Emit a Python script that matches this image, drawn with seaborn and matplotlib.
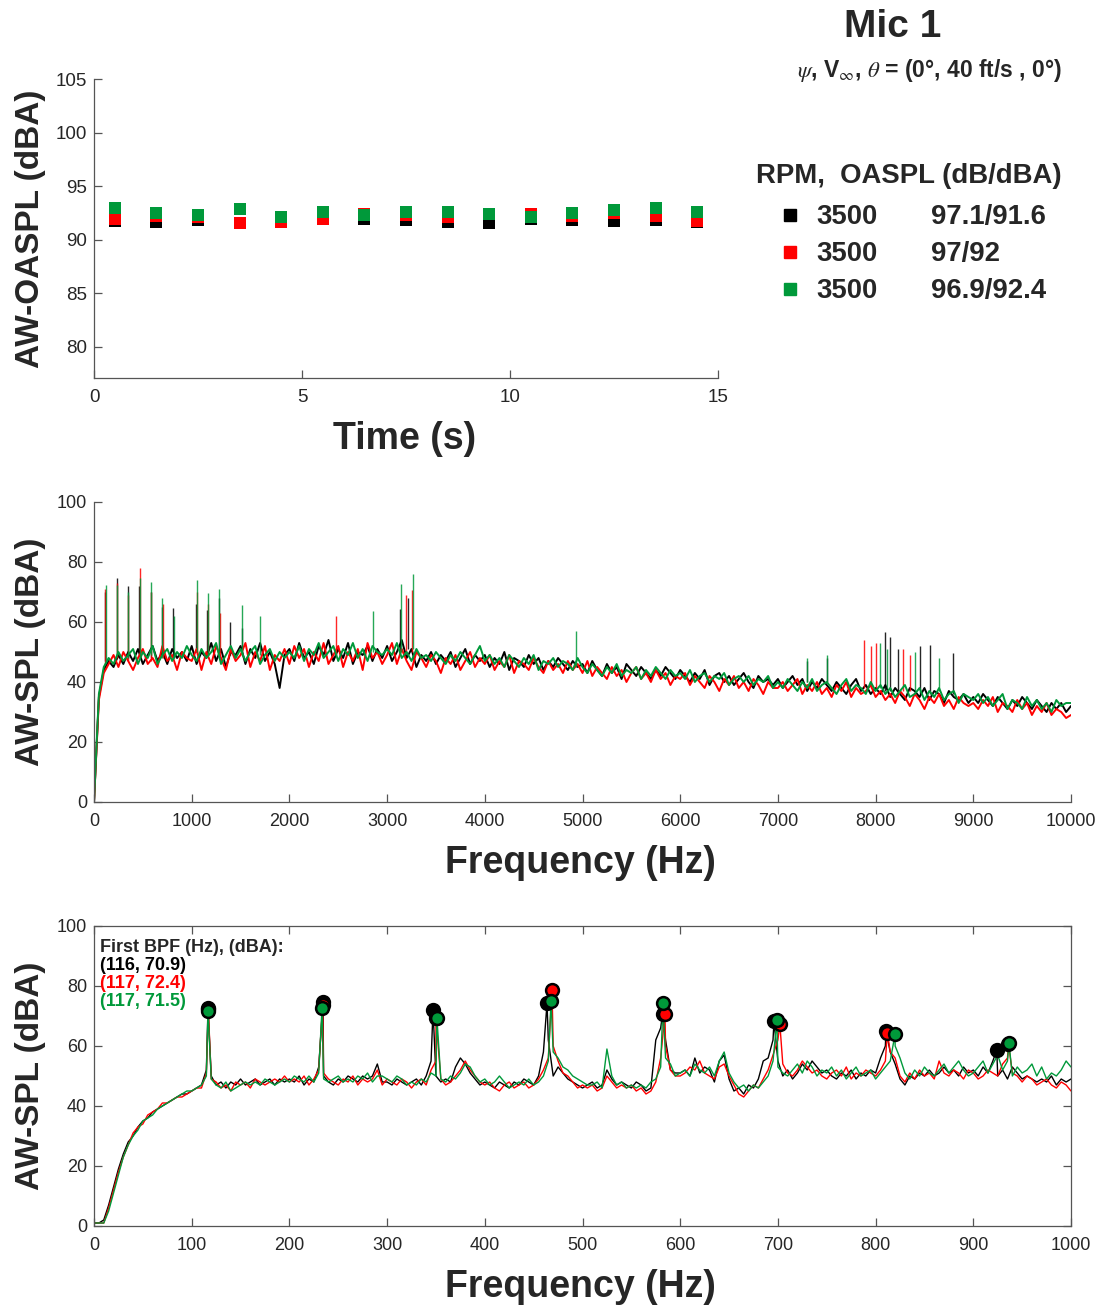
import numpy as np
import seaborn as sns
import matplotlib.pyplot as plt
from matplotlib.lines import Line2D

sns.set_theme(style="ticks")
plt.rcParams['font.family'] = ['Liberation Sans', 'DejaVu Sans']
plt.rcParams['mathtext.fontset'] = 'stix'

# colours for the three runs (black, red, green)
colors = ['#000000', '#ff0000', '#00993a']
rpm = ['3500', '3500', '3500']
oaspl = ['97.1/91.6', '97/92', '96.9/92.4']

# ---- top panel: AW-OASPL vs time
time_s = [0.5, 1.5, 2.5, 3.5, 4.5, 5.5, 6.5, 7.5, 8.5, 9.5, 10.5, 11.5, 12.5, 13.5, 14.5]
oaspl_black = [91.71, 91.64, 91.80, 91.57, 91.62, 91.91, 91.89, 91.80, 91.61, 91.55, 91.89, 91.80, 91.71, 91.80, 91.61]
oaspl_red = [91.96, 92.24, 92.08, 91.55, 91.61, 91.96, 92.39, 92.30, 92.08, 92.39, 92.39, 92.17, 92.48, 92.17, 91.71]
oaspl_green = [92.98, 92.48, 92.30, 92.83, 92.14, 92.58, 92.33, 92.58, 92.58, 92.39, 92.11, 92.48, 92.80, 92.92, 92.58]

# ---- middle panel: spectrum 0-10000 Hz on a 50 Hz grid
f_wide = np.arange(0, 10001, 50)
spl_wide_black = [
    0, 35, 44, 47, 45, 49, 46, 50, 47, 51, 46, 49, 52, 47, 50, 46, 51, 48, 50, 47,
    52, 46, 50, 48, 53, 47, 51, 45, 50, 49, 52, 46, 51, 48, 53, 47, 50, 46, 38, 49,
    51, 47, 53, 48, 50, 46, 52, 49, 54, 47, 51, 48, 53, 46, 50, 49, 52, 47, 51, 48,
    52, 47, 50, 54, 48, 51, 45, 49, 47, 50, 46, 49, 47, 50, 45, 48, 51, 46, 49, 47,
    49, 45, 48, 46, 50, 44, 48, 47, 45, 49, 46, 48, 44, 47, 45, 48, 46, 44, 47, 45,
    46, 43, 47, 44, 42, 46, 43, 45, 41, 46, 44, 42, 45, 43, 41, 44, 42, 45, 43, 41,
    44, 42, 40, 43, 41, 44, 39, 42, 43, 40, 42, 39, 41, 43, 40, 38, 42, 40, 41, 39,
    41, 38, 40, 42, 39, 41, 37, 40, 38, 41, 39, 37, 40, 38, 36, 39, 41, 37, 39, 36,
    38, 36, 39, 35, 38, 36, 34, 38, 37, 35, 38, 34, 37, 36, 33, 37, 35, 34, 36, 33,
    35, 33, 36, 34, 32, 35, 33, 31, 34, 32, 35, 33, 31, 34, 32, 30, 33, 31, 33, 30,
    32]
spl_wide_red = [
    0, 34, 43, 46, 49, 45, 50, 47, 44, 48, 51, 46, 48, 45, 52, 47, 49, 44, 50, 48,
    47, 51, 44, 50, 46, 52, 48, 44, 51, 47, 49, 53, 45, 50, 47, 52, 44, 49, 47, 51,
    46, 52, 48, 51, 45, 50, 47, 53, 46, 49, 52, 45, 50, 47, 51, 44, 53, 48, 50, 46,
    49, 53, 46, 51, 47, 44, 50, 48, 45, 49, 47, 43, 48, 46, 49, 44, 47, 50, 45, 48,
    46, 49, 44, 47, 45, 49, 43, 47, 46, 44, 48, 45, 43, 47, 44, 46, 43, 47, 44, 46,
    43, 47, 42, 45, 43, 41, 45, 42, 44, 40, 43, 45, 41, 43, 40, 44, 41, 43, 39, 42,
    41, 43, 39, 42, 40, 38, 42, 40, 37, 41, 39, 42, 38, 40, 37, 41, 39, 36, 40, 38,
    38, 40, 37, 39, 41, 36, 39, 37, 40, 36, 38, 35, 39, 37, 40, 35, 38, 36, 37, 39,
    35, 37, 34, 36, 33, 37, 35, 32, 36, 34, 31, 35, 33, 36, 32, 34, 31, 35, 33, 32,
    33, 31, 34, 32, 35, 30, 33, 32, 30, 34, 31, 33, 29, 32, 30, 33, 29, 31, 30, 28,
    29]
spl_wide_green = [
    0, 36, 45, 48, 46, 50, 47, 49, 51, 46, 50, 48, 52, 46, 49, 51, 47, 50, 48, 52,
    49, 47, 51, 48, 50, 53, 46, 49, 52, 48, 51, 47, 50, 52, 46, 49, 51, 47, 50, 48,
    50, 48, 52, 47, 51, 49, 53, 48, 50, 52, 47, 51, 49, 53, 48, 51, 47, 52, 50, 49,
    51, 49, 53, 48, 50, 47, 51, 48, 49, 47, 50, 48, 46, 49, 47, 50, 48, 46, 49, 52,
    47, 49, 46, 48, 45, 49, 47, 45, 48, 46, 49, 44, 47, 46, 48, 45, 47, 46, 44, 48,
    45, 43, 46, 44, 42, 45, 43, 46, 42, 44, 43, 45, 41, 44, 42, 45, 43, 41, 44, 42,
    43, 41, 44, 40, 42, 43, 40, 42, 41, 43, 39, 41, 42, 40, 42, 39, 41, 40, 42, 38,
    40, 38, 41, 39, 37, 40, 38, 41, 37, 39, 40, 38, 36, 39, 41, 37, 39, 38, 36, 40,
    37, 39, 36, 38, 35, 37, 39, 35, 36, 38, 34, 37, 35, 38, 34, 36, 37, 33, 36, 35,
    34, 36, 33, 35, 32, 34, 36, 31, 34, 33, 31, 35, 32, 34, 31, 33, 30, 34, 32, 33,
    33]

# narrow tonal spikes in the wide spectrum: freq, top, base
spike_f_black = [116, 233, 349, 465, 581, 698, 812, 1045, 1160, 1280, 1395, 1515, 3130, 3210, 7300, 7500, 8100, 8150, 8230, 8450, 8560, 8790]
spike_top_black = [70, 74.6, 72, 72, 70, 65, 64.6, 66, 64, 68, 60, 58, 64.3, 68, 47, 48, 56.6, 55, 51, 52, 52.3, 49.7]
spike_base_black = [47, 48, 48, 49, 48, 49, 48, 50, 49, 50, 49, 49, 50, 51, 40, 40, 37, 37, 37, 36, 36, 36]
spike_f_red = [117, 234, 350, 469, 584, 702, 1050, 1170, 1285, 2480, 3190, 3255, 7880, 7950, 8000, 8280, 8350]
spike_top_red = [71, 73, 69, 78, 70, 66, 70, 66, 63, 62, 69, 70.7, 54, 52, 53, 51, 49]
spike_base_red = [46, 48, 47, 48, 47, 48, 49, 50, 48, 49, 50, 50, 38, 38, 38, 37, 37]
spike_f_green = [120, 232, 345, 468, 580, 693, 815, 1051, 1164, 1280, 1515, 1700, 2860, 3142, 3262, 4930, 7300, 7500, 8050, 8120, 8400, 8650]
spike_top_green = [72.3, 72.5, 70, 74.6, 73.3, 68, 62, 74, 69.6, 71, 65.7, 62, 63.7, 72.7, 76, 57, 48, 49, 53, 51, 50, 48]
spike_base_green = [47, 49, 48, 49, 49, 48, 48, 50, 49, 50, 49, 49, 50, 50, 51, 45, 40, 40, 38, 38, 37, 37]

# ---- bottom panel: spectrum 0-1000 Hz on a 5 Hz grid
f_low = np.arange(0, 1001, 5)
spl_low_black = [
    1, 1, 2, 7, 13, 19, 24, 28, 30, 33, 35, 36, 38, 39, 40, 41, 42, 43, 44, 44,
    45, 46, 47, 52, 50, 47, 48, 46, 48, 47, 49, 47, 48, 49, 47, 48, 49, 47, 49, 48,
    49, 48, 50, 47, 49, 48, 53, 50, 48, 47, 49, 48, 50, 49, 48, 50, 49, 50, 54, 48,
    48, 47, 49, 48, 47, 48, 49, 47, 50, 55, 50, 48, 49, 48, 53, 56, 54, 51, 49, 47,
    48, 47, 46, 48, 47, 46, 48, 47, 49, 48, 47, 50, 58, 62, 50, 53, 51, 49, 48, 47,
    46, 47, 48, 46, 47, 52, 49, 47, 48, 47, 46, 48, 47, 45, 46, 62, 66, 62, 52, 51,
    51, 52, 50, 56, 51, 53, 52, 48, 55, 57, 49, 45, 46, 44, 47, 46, 49, 55, 56, 62,
    55, 50, 52, 49, 51, 54, 52, 55, 53, 51, 52, 50, 49, 51, 50, 52, 49, 51, 50, 52,
    51, 56, 60, 58, 54, 49, 47, 50, 49, 51, 50, 52, 50, 51, 53, 51, 52, 50, 53, 51,
    52, 50, 53, 51, 55, 50, 52, 49, 53, 51, 49, 50, 49, 48, 49, 48, 50, 47, 49, 48,
    49]
spl_low_red = [
    1, 1, 1, 6, 12, 18, 23, 27, 31, 33, 34, 37, 38, 39, 41, 41, 42, 43, 43, 44,
    45, 46, 46, 51, 49, 48, 46, 47, 45, 48, 47, 48, 46, 49, 48, 47, 48, 49, 48, 50,
    48, 49, 48, 50, 47, 49, 52, 51, 49, 48, 47, 49, 48, 50, 47, 49, 48, 49, 52, 47,
    49, 48, 47, 49, 48, 46, 48, 49, 47, 52, 55, 49, 47, 48, 50, 52, 55, 52, 50, 48,
    47, 48, 46, 45, 47, 48, 46, 47, 48, 46, 47, 49, 52, 56, 60, 55, 51, 50, 48, 46,
    47, 46, 47, 45, 46, 50, 48, 46, 47, 46, 47, 45, 46, 44, 45, 48, 56, 60, 52, 50,
    50, 51, 53, 52, 55, 51, 50, 49, 53, 54, 50, 47, 44, 43, 45, 47, 46, 49, 52, 57,
    62, 54, 51, 50, 52, 55, 53, 51, 52, 50, 49, 51, 52, 50, 53, 49, 51, 50, 52, 51,
    50, 52, 55, 58, 56, 50, 48, 51, 49, 52, 50, 51, 49, 55, 51, 50, 52, 51, 49, 52,
    51, 49, 50, 52, 51, 50, 54, 56, 51, 50, 48, 50, 49, 47, 48, 49, 47, 46, 48, 47,
    45]
spl_low_green = [
    1, 1, 1, 5, 11, 17, 23, 27, 30, 32, 35, 36, 37, 39, 40, 41, 42, 43, 44, 45,
    45, 46, 47, 50, 49, 47, 46, 48, 45, 46, 47, 48, 47, 48, 47, 49, 48, 47, 48, 49,
    48, 50, 49, 48, 50, 48, 51, 49, 48, 49, 50, 48, 49, 48, 50, 49, 51, 48, 50, 50,
    49, 48, 50, 49, 47, 48, 47, 49, 48, 51, 50, 49, 48, 50, 49, 51, 54, 53, 50, 48,
    49, 47, 48, 50, 48, 46, 47, 48, 47, 49, 47, 48, 50, 55, 58, 56, 53, 52, 50, 49,
    48, 47, 47, 48, 46, 59, 50, 47, 48, 46, 47, 46, 47, 46, 48, 49, 53, 56, 54, 50,
    51, 52, 50, 54, 52, 51, 53, 50, 55, 58, 51, 48, 46, 47, 45, 47, 46, 48, 50, 55,
    53, 51, 50, 52, 54, 51, 55, 53, 50, 52, 51, 53, 50, 52, 49, 51, 53, 50, 51, 52,
    49, 51, 53, 55, 60, 56, 51, 49, 52, 50, 53, 51, 50, 52, 54, 51, 53, 55, 52, 50,
    51, 53, 55, 51, 54, 57, 52, 55, 50, 53, 51, 52, 54, 50, 53, 49, 51, 50, 52, 55,
    53]

# BPF harmonic peaks (marked with circles)
peak_f_black = [116.7, 234.4, 347, 463.7, 582, 696, 810.6, 924]
peak_db_black = [72.7, 74.7, 72, 74.3, 70.7, 68.3, 65, 58.7]
peak_f_red = [117, 234, 350, 468.8, 584.4, 702, 812, 936]
peak_db_red = [72.4, 73.8, 69.5, 78.7, 70.7, 67.3, 64.5, 60.7]
peak_f_green = [116.7, 233.4, 351, 467.8, 582.4, 699, 819.9, 936.5]
peak_db_green = [71.7, 72.7, 69.3, 75, 74.3, 68.7, 64, 61]
bpf_labels = ['(116, 70.9)', '(117, 72.4)', '(117, 71.5)']

W, H = 1104, 1308
fig = plt.figure(figsize=(W / 100, H / 100), dpi=100)


def ax_rect(left, top, right, bottom):
    return [left / W, 1 - bottom / H, (right - left) / W, (bottom - top) / H]


ax1 = fig.add_axes(ax_rect(94, 79, 718, 378))
ax2 = fig.add_axes(ax_rect(94, 502, 1071, 802))
ax3 = fig.add_axes(ax_rect(94, 926, 1071, 1226))

# top
for vals, c in zip([oaspl_black, oaspl_red, oaspl_green], colors):
    sns.scatterplot(x=time_s, y=vals, marker='s', s=82, color=c, linewidth=0, ax=ax1, zorder=3)
ax1.set_xlim(0, 15)
ax1.set_ylim(77.1, 105)
ax1.set_xticks([0, 5, 10, 15])
ax1.set_yticks([80, 85, 90, 95, 100, 105])

# middle
wide = [(spl_wide_black, spike_f_black, spike_top_black, spike_base_black),
        (spl_wide_red, spike_f_red, spike_top_red, spike_base_red),
        (spl_wide_green, spike_f_green, spike_top_green, spike_base_green)]
for (vals, sf, st, sb), c in zip(wide, colors):
    sns.lineplot(x=f_wide, y=vals, color=c, lw=1.4, estimator=None, ax=ax2)
    ax2.vlines(sf, sb, st, color=c, lw=1.0, alpha=0.85)
ax2.set_xlim(0, 10000)
ax2.set_ylim(0, 100)
ax2.set_xticks(range(0, 10001, 1000))
ax2.set_yticks(range(0, 101, 20))

# bottom
low = [(spl_low_black, peak_f_black, peak_db_black),
       (spl_low_red, peak_f_red, peak_db_red),
       (spl_low_green, peak_f_green, peak_db_green)]
for (vals, pf, pdb), c in zip(low, colors):
    x = np.concatenate([f_low, pf])
    y = np.concatenate([vals, pdb])
    sns.lineplot(x=x, y=y, color=c, lw=1.0, estimator=None, sort=True, ax=ax3)
for (vals, pf, pdb), c in zip(low, colors):
    sns.scatterplot(x=pf, y=pdb, marker='o', s=85, color=c, edgecolor='black',
                    linewidth=1.8, ax=ax3, zorder=5)
ax3.set_xlim(0, 1000)
ax3.set_ylim(0, 100)
ax3.set_xticks(range(0, 1001, 100))
ax3.set_yticks(range(0, 101, 20))

spine_c = '#555555'
for ax in [ax1, ax2, ax3]:
    for s in ax.spines.values():
        s.set_color(spine_c)
        s.set_linewidth(0.9)
    ax.tick_params(direction='in', length=6, width=0.9, color=spine_c,
                   labelsize=13, labelcolor='#262626')
    ax.tick_params(axis='x', pad=8)
    ax.tick_params(axis='y', pad=5)
for ax in [ax1, ax2]:
    ax.spines['top'].set_visible(False)
    ax.spines['right'].set_visible(False)
ax3.tick_params(top=True, right=True)
for lab in ax1.get_xticklabels() + ax1.get_yticklabels():
    lab.set_fontsize(13.5)

ax1.set_ylabel('AW-OASPL (dBA)', fontsize=24, fontweight='bold', color='#262626')
ax1.set_xlabel('Time (s)', fontsize=27, fontweight='bold', color='#262626')
ax2.set_ylabel('AW-SPL (dBA)', fontsize=24, fontweight='bold', color='#262626')
ax2.set_xlabel('Frequency (Hz)', fontsize=27, fontweight='bold', color='#262626')
ax3.set_ylabel('AW-SPL (dBA)', fontsize=24, fontweight='bold', color='#262626')
ax3.set_xlabel('Frequency (Hz)', fontsize=27, fontweight='bold', color='#262626')
ax1.yaxis.set_label_coords((46 - 94) / 624, 0.5)
ax1.xaxis.set_label_coords(0.498, (378 - 421) / 299)
for ax in [ax2, ax3]:
    ax.yaxis.set_label_coords((46 - 94) / 977, 0.5)
    ax.xaxis.set_label_coords(0.498, -0.143)


def ftext(x, y, s, **kw):
    fig.text(x / W, 1 - y / H, s, **kw)


ftext(893, 27, 'Mic 1', fontsize=28, fontweight='bold', ha='center', va='center')
ftext(930, 71, r'$\psi$, V$_{\infty}$, $\theta$ = (0°, 40 ft/s , 0°)', fontsize=16.5,
      fontweight='bold', ha='center', va='center')
ftext(756, 176, 'RPM,  OASPL (dB/dBA)', fontsize=19.8, fontweight='bold', va='center')
for i, c in enumerate(colors):
    yy = 217 + 37 * i
    fig.add_artist(Line2D([790 / W], [1 - (yy - 2) / H], marker='s', color=c,
                          markersize=8, lw=0, transform=fig.transFigure))
    ftext(816, yy, rpm[i], fontsize=19.8, fontweight='bold', va='center')
    ftext(931, yy, oaspl[i], fontsize=19.8, fontweight='bold', va='center')

ftext(100, 947, 'First BPF (Hz), (dBA):', fontsize=13, fontweight='bold', va='center')
for i, c in enumerate(colors):
    ftext(100, 966 + 18 * i, bpf_labels[i], fontsize=13, fontweight='bold',
          color=c, va='center')

fig.savefig('out.png', dpi=100)
